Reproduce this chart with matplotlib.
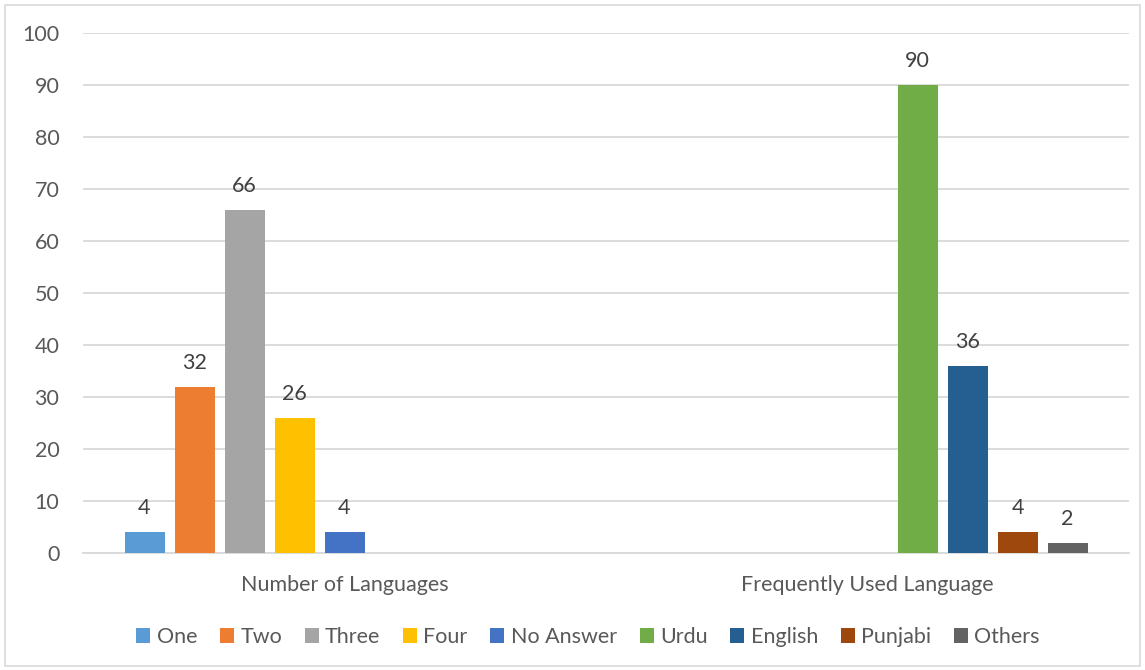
import matplotlib.pyplot as plt
from matplotlib.patches import Rectangle
import numpy as np

plt.rcParams['font.family'] = ['Lato', 'DejaVu Sans']

categories = ["Number of Languages", "Frequently Used Language"]
series_names = ["One", "Two", "Three", "Four", "No Answer",
                "Urdu", "English", "Punjabi", "Others"]
# one row per series, one column per category (nan = no bar)
values = [
    [4, np.nan],
    [32, np.nan],
    [66, np.nan],
    [26, np.nan],
    [4, np.nan],
    [np.nan, 90],
    [np.nan, 36],
    [np.nan, 4],
    [np.nan, 2],
]
colors = ["#5b9bd5", "#ed7d31", "#a5a5a5", "#ffc000", "#4472c4",
          "#70ad47", "#255e91", "#9e480e", "#636363"]

text_color = "#595959"
grid_color = "#d9d9d9"
fs = 15.5

fig = plt.figure(figsize=(11.45, 6.7), dpi=100)
ax = fig.add_axes([83 / 1145, 1 - 553 / 670, 1046 / 1145, 520 / 670])

x = np.arange(len(categories))
pitch = 50 / 523
width = 40 / 523
n = len(series_names)

for i, (name, vals, col) in enumerate(zip(series_names, values, colors)):
    pos = x + (i - (n - 1) / 2) * pitch
    bars = ax.bar(pos, vals, width=width, color=col, label=name, zorder=3)
    for b, v in zip(bars, vals):
        if not np.isnan(v):
            ax.annotate(f"{v:g}", (b.get_x() + b.get_width() / 2, v),
                        xytext=(0, 10), textcoords="offset points",
                        ha="center", va="bottom", fontsize=fs, color="#404040")

ax.set_xlim(-0.5, 1.5)
ax.set_ylim(0, 100)
ax.set_yticks(range(0, 101, 10))
ax.set_xticks(x)
ax.set_xticklabels(categories)
ax.tick_params(axis="both", length=0, labelsize=fs, labelcolor=text_color)
ax.tick_params(axis="x", pad=16)
ax.tick_params(axis="y", pad=17)

ax.grid(axis="y", color=grid_color, linewidth=1.3, zorder=0)
for side in ["top", "right", "left"]:
    ax.spines[side].set_visible(False)
ax.spines["bottom"].set_color(grid_color)
ax.spines["bottom"].set_linewidth(1.3)

leg = fig.legend(loc="center", bbox_to_anchor=(588 / 1145, 1 - 637 / 670), ncol=n,
                 frameon=False, fontsize=fs, handlelength=0.65, handleheight=0.65,
                 handletextpad=0.3, columnspacing=1.05)
for t in leg.get_texts():
    t.set_color(text_color)

fig.patches.append(Rectangle((5 / 1145, 4 / 670), 1135 / 1145, 661 / 670,
                             transform=fig.transFigure, fill=False,
                             edgecolor="#d9d9d9", linewidth=1.2))

fig.savefig("out.png", dpi=100)
